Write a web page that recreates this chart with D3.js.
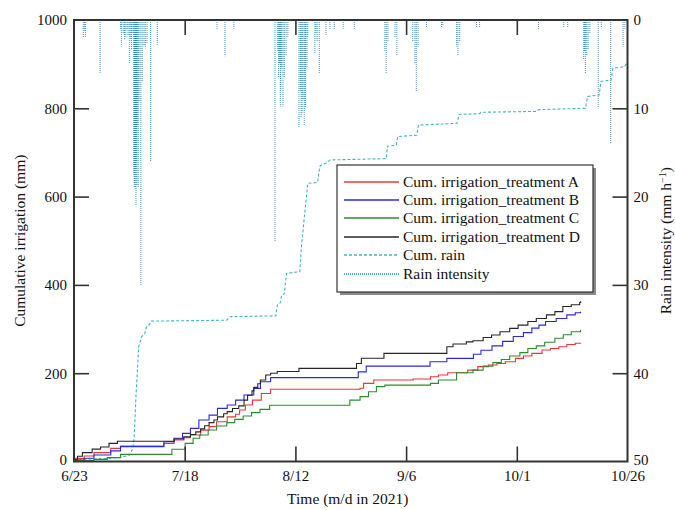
<!DOCTYPE html>
<html>
<head>
<meta charset="utf-8">
<script src="https://cdn.jsdelivr.net/npm/d3@7"></script>
<style>
  html, body { margin: 0; padding: 0; background: #fff; }
  svg { display: block; font-family: "Liberation Serif", "Times New Roman", serif; }
  svg text { font-family: "Liberation Serif", "Times New Roman", serif; }
</style>
</head>
<body>
<svg id="chart" width="675" height="510"></svg>
<script>
// Day offsets are counted from 6/23/2021.
const dayTicks = [0, 25, 50, 75, 100, 125];
const dayLabels = ["6/23", "7/18", "8/12", "9/6", "10/1", "10/26"];
const irrigationTicks = [0, 200, 400, 600, 800, 1000];
const intensityTicks = [0, 10, 20, 30, 40, 50];

// Cumulative irrigation per treatment: [day, mm], stepping after each event
const irrigationA = [[0,0],[0.3,7],[2.3,12.5],[4.5,20],[8.3,29.8],[10.5,35],[20.3,41],[22.6,48.7],[24.8,54],[26.3,60],[28.6,71],[30.5,79],[32.2,90],[34.6,101],[36.5,107],[37.4,116.6],[38.7,128],[40.3,139],[42.3,154],[44.4,163.5],[64.6,166],[65.4,177],[67.7,184.5],[76.6,187],[80.5,192],[82.3,196],[84.4,201],[88.9,207],[91.2,214.8],[93.6,218.6],[95.5,222],[97.4,226],[99.7,233.6],[101.5,239],[103.4,245],[105.7,252.5],[107.6,256],[109.5,260],[111.3,265],[113.2,268],[114.4,269]];
const irrigationB = [[0,0],[0.4,3.4],[2.3,7.2],[4.5,14.7],[8.3,24],[10.5,33.6],[20.3,44.9],[22.6,52.5],[24.5,63.8],[26.3,75],[28.2,94],[30.5,105],[32.4,120.4],[34.6,128],[36.5,139],[38.4,150.6],[40.6,165.7],[42.1,180.8],[44.4,190],[64.2,203],[66,216],[80.4,226],[84.2,233.6],[90.2,243],[91.9,252],[94.4,262],[96.8,272],[99.2,283],[101.5,292],[103.4,302],[105,309],[106.5,317],[108.9,324],[111.3,332],[113.2,337],[114.4,339]];
const irrigationC = [[0,0],[0.4,1.9],[4.5,4.9],[7.5,8.7],[10.5,16.2],[22.1,27.6],[25.1,41],[26.9,52.5],[28.4,60],[30.3,71.3],[32.2,80.4],[34.5,88],[36.3,95.5],[38.2,103],[40.1,110.6],[42,118],[44.2,127.5],[62.3,139],[64.6,147],[66.5,158],[68.3,169.5],[70.2,173],[80.5,177],[82.3,184.5],[86.4,201],[90.1,207],[92.4,216],[94.6,224],[96.5,231],[98.4,239],[100.7,246.5],[102.5,256],[104.4,262],[106.3,270],[108.6,279],[110.5,287],[112.3,294],[114.4,298]];
const irrigationD = [[0,0],[0.4,4],[0.8,12],[1.9,20],[4.1,28],[6.0,33],[7.9,41],[9.8,46],[22.6,51],[24.8,56],[26.3,61],[27.5,67],[28.6,74],[29.5,81],[30.5,88],[31.6,94],[32.4,101],[33.8,108],[34.6,113],[35.8,120],[37.2,126],[38.4,139],[39.2,150],[40.2,160],[40.6,168],[41.5,176],[42.1,184.5],[43.3,196],[44.4,200],[45.9,204],[50.8,211],[63.8,222],[64.9,234],[70,245],[84.2,260],[85.6,266],[88.6,271],[90.1,273.6],[92.4,281],[94.3,286.5],[96.2,294],[98.4,301.6],[100.3,309],[102.5,317],[104.4,324],[106.7,332],[108.6,339.5],[110.4,351],[112.3,355],[114.2,360],[114.4,363]];

// Cumulative rain: [day, mm]
const cumRain = [[0,0],[0.5,3],[2,5],[5,6],[8,7],[10.4,9],[11.2,11],[12.5,14],[13.3,30],[13.6,56],[14.0,150],[14.3,200],[14.6,260],[15.3,283],[16.0,290],[16.4,306],[17.0,310],[17.5,318],[34.5,320],[35.2,328],[45.6,330],[45.9,354],[46.6,360],[46.9,377],[47.5,380],[48.0,426],[51.0,430],[51.3,479],[51.7,520],[52.1,562],[52.6,610],[52.8,630],[55.0,632],[55.5,668],[55.9,672],[57.0,676],[57.8,683],[70.5,686],[70.8,714],[72.8,717],[73.1,736],[77.4,739],[77.8,762],[86.5,766],[87,786],[91.6,788],[91.9,791],[104.4,793],[105,797],[115.5,800],[116,827],[118.6,830],[119,861],[121.3,864],[121.7,891],[124.3,894],[124.8,902],[125,903]];

// Hourly rain intensity events: [day, mm/h]
const rainIntensity = [[2.1,2.0],[2.4,1.2],[2.6,2.0],[5.9,6.0],[10.5,1.0],[10.7,3.0],[11.1,1.5],[11.4,2.2],[11.7,1.9],[12.0,1.0],[12.2,1.8],[12.5,4.9],[12.8,2.3],[13.0,3.4],[13.3,1.5],[13.5,17.5],[13.6,19.0],[13.7,18.5],[13.8,19.1],[13.9,17.0],[14.0,21.0],[14.1,16.0],[14.2,18.8],[14.3,12.0],[14.5,19.0],[14.7,9.2],[15.1,30.0],[15.4,7.0],[15.8,2.9],[16.1,3.2],[16.5,2.6],[17.3,16.0],[18.8,2.8],[32.3,1.0],[34.1,4.1],[36.1,1.0],[45.4,25.1],[46.0,3.5],[46.2,6.5],[46.4,5.0],[46.6,9.8],[46.7,8.0],[46.9,5.5],[47.2,9.8],[47.5,6.5],[47.9,4.0],[48.3,2.0],[50.8,12.1],[51.1,8.0],[51.3,11.0],[51.5,10.5],[51.7,9.0],[52.0,12.0],[52.2,10.0],[52.3,9.8],[52.6,5.5],[52.8,1.9],[54.4,3.8],[54.6,1.5],[54.9,2.5],[55.4,6.0],[56.9,1.8],[57.8,1.0],[58.8,1.0],[60.8,1.0],[63.3,1.0],[70.2,3.5],[70.5,6.0],[70.9,2.5],[72.5,2.0],[72.9,4.0],[76.5,2.5],[77.0,5.0],[77.3,8.1],[77.7,3.0],[79.6,0.9],[83.0,0.9],[83.3,0.7],[86.4,3.0],[86.7,4.0],[87.1,2.5],[90.9,0.9],[91.6,0.9],[104.9,1.0],[110.6,0.9],[111.5,0.9],[115.1,4.5],[115.3,3.6],[115.5,6.0],[115.8,4.0],[116.1,3.3],[116.5,1.5],[118.4,10.0],[119.1,0.9],[121.2,14.0],[124.0,3.0],[124.4,1.0]];

const series = [
  { name: "Cum. irrigation_treatment A", data: irrigationA, color: "#e8383b" },
  { name: "Cum. irrigation_treatment B", data: irrigationB, color: "#2a2ad8" },
  { name: "Cum. irrigation_treatment C", data: irrigationC, color: "#2e8b2e" },
  { name: "Cum. irrigation_treatment D", data: irrigationD, color: "#262626" }
];
const rainColor = "#3fb6c4";
const intensityColor = "#2b86c2";
const serif = '"Liberation Serif", "Times New Roman", serif';

const svg = d3.select("#chart");
const plot = { left: 74, right: 627.5, top: 20, bottom: 461.5 };

const x = d3.scaleLinear().domain([0, 125]).range([plot.left, plot.right]);
const yL = d3.scaleLinear().domain([0, 1000]).range([plot.bottom, plot.top]);
const yR = d3.scaleLinear().domain([0, 50]).range([plot.top, plot.bottom]);

// Rain intensity stems hanging from the top axis
svg.append("g")
  .selectAll("line")
  .data(rainIntensity)
  .join("line")
  .attr("x1", d => x(d[0])).attr("x2", d => x(d[0]))
  .attr("y1", yR(0)).attr("y2", d => yR(d[1]))
  .attr("stroke", intensityColor)
  .attr("stroke-width", 1)
  .attr("stroke-dasharray", "1,1")
  .attr("opacity", 0.85);

// Cumulative rain
svg.append("path")
  .datum(cumRain)
  .attr("fill", "none")
  .attr("stroke", rainColor)
  .attr("stroke-width", 1.1)
  .attr("stroke-dasharray", "3,2")
  .attr("d", d3.line().x(d => x(d[0])).y(d => yL(d[1])));

// Cumulative irrigation, stepwise
const stepLine = d3.line().curve(d3.curveStepAfter).x(d => x(d[0])).y(d => yL(d[1]));
svg.append("g")
  .selectAll("path")
  .data(series)
  .join("path")
  .attr("fill", "none")
  .attr("stroke", d => d.color)
  .attr("stroke-width", 1.1)
  .attr("d", d => stepLine(d.data));

// Axes with inward ticks
const axisColor = "#333";
const tickLen = 15;
function styleAxis(g) {
  g.attr("font-family", serif);
  g.selectAll(".domain").remove();
  g.selectAll(".tick line").attr("stroke", axisColor).attr("stroke-width", 1.6);
  g.selectAll(".tick text").attr("fill", "#111").attr("font-size", 15);
}

svg.append("g")
  .attr("transform", `translate(0,${plot.bottom})`)
  .call(d3.axisBottom(x).tickValues(dayTicks).tickFormat((d, i) => dayLabels[i])
    .tickSizeInner(-tickLen).tickSizeOuter(0).tickPadding(9))
  .call(styleAxis)
  .call(g => g.selectAll(".tick").filter(d => d === 0 || d === 125).select("line").remove());

svg.append("g")
  .attr("transform", `translate(0,${plot.top})`)
  .call(d3.axisTop(x).tickValues(dayTicks.slice(1, -1)).tickFormat("")
    .tickSizeInner(-tickLen).tickSizeOuter(0))
  .call(styleAxis);

svg.append("g")
  .attr("transform", `translate(${plot.left},0)`)
  .call(d3.axisLeft(yL).tickValues(irrigationTicks).tickFormat(d3.format("d"))
    .tickSizeInner(-tickLen).tickSizeOuter(0).tickPadding(7))
  .call(styleAxis)
  .call(g => g.selectAll(".tick").filter(d => d === 0 || d === 1000).select("line").remove())
  .call(g => g.selectAll(".tick").filter(d => d === 0).select("text").attr("dy", "0.2em"));

svg.append("g")
  .attr("transform", `translate(${plot.right},0)`)
  .call(d3.axisRight(yR).tickValues(intensityTicks).tickFormat(d3.format("d"))
    .tickSizeInner(-tickLen).tickSizeOuter(0).tickPadding(6))
  .call(styleAxis)
  .call(g => g.selectAll(".tick").filter(d => d === 0 || d === 50).select("line").remove())
  .call(g => g.selectAll(".tick").filter(d => d === 50).select("text").attr("dy", "0.2em"));

// Frame
svg.append("rect")
  .attr("x", plot.left).attr("y", plot.top)
  .attr("width", plot.right - plot.left).attr("height", plot.bottom - plot.top)
  .attr("fill", "none").attr("stroke", axisColor).attr("stroke-width", 2);

// Axis titles
svg.append("text")
  .attr("transform", `translate(${(plot.left + plot.right) / 2 - 3},504)`)
  .attr("text-anchor", "middle").attr("font-size", 15.5).attr("font-family", serif).attr("fill", "#111")
  .text("Time (m/d in 2021)");

svg.append("text")
  .attr("transform", `translate(25,${(plot.top + plot.bottom) / 2}) rotate(-90)`)
  .attr("text-anchor", "middle").attr("font-size", 15.5).attr("font-family", serif).attr("fill", "#111")
  .text("Cumulative irrigation (mm)");

const rt = svg.append("text")
  .attr("transform", `translate(671,${(plot.top + plot.bottom) / 2}) rotate(-90)`)
  .attr("text-anchor", "middle").attr("font-size", 15.5).attr("font-family", serif).attr("fill", "#111");
rt.append("tspan").text("Rain intensity (mm h");
rt.append("tspan").attr("baseline-shift", "super").attr("font-size", 10).text("−1");
rt.append("tspan").text(")");

// Legend
const legendItems = [
  ...series.map(s => ({ name: s.name, color: s.color, dash: null })),
  { name: "Cum. rain", color: rainColor, dash: "3,2" },
  { name: "Rain intensity", color: intensityColor, dash: "1,1" }
];
const lg = { x: 337, y: 165, w: 256, h: 127 };
svg.append("rect")
  .attr("x", lg.x + 3).attr("y", lg.y + 3).attr("width", lg.w).attr("height", lg.h)
  .attr("fill", "#8a8a8a");
svg.append("rect")
  .attr("x", lg.x).attr("y", lg.y).attr("width", lg.w).attr("height", lg.h)
  .attr("fill", "#fff").attr("stroke", "#333").attr("stroke-width", 1.2);

const rowY = d3.scaleLinear().domain([0, 5]).range([lg.y + 16.5, lg.y + 108.5]);
const rows = svg.append("g").selectAll("g").data(legendItems).join("g")
  .attr("transform", (d, i) => `translate(0,${Math.round(rowY(i))})`);
rows.append("line")
  .attr("x1", lg.x + 7).attr("x2", lg.x + 62)
  .attr("stroke", d => d.color).attr("stroke-width", 1.4)
  .attr("stroke-dasharray", d => d.dash);
rows.append("text")
  .attr("x", lg.x + 66).attr("dy", "0.33em")
  .attr("font-size", 15.5).attr("font-family", serif).attr("fill", "#111")
  .text(d => d.name);
</script>
</body>
</html>
